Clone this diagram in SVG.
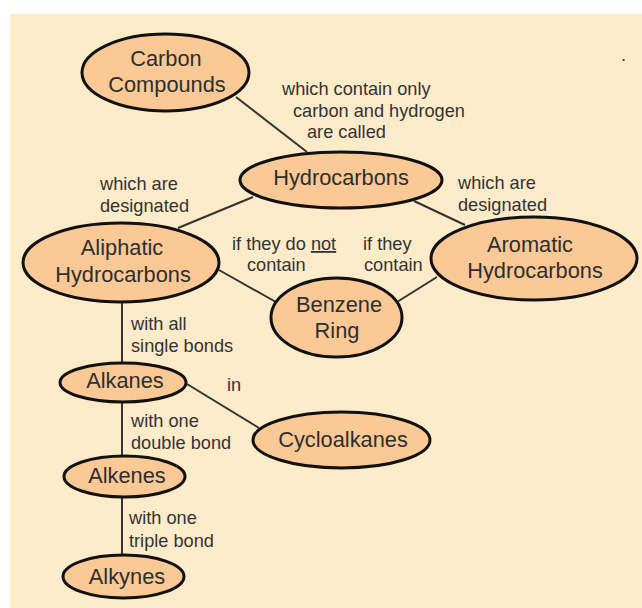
<svg xmlns="http://www.w3.org/2000/svg" width="642" height="608" viewBox="0 0 642 608">
  <style>
    .node ellipse { fill: #fbc996; stroke: #111; stroke-width: 3; }
    .node text { font-family: "Liberation Sans", Arial, sans-serif; font-size: 21.8px; fill: #2e2e2e; text-anchor: middle; }
    .conn line { stroke: #333; stroke-width: 2; }
    .lbl { font-family: "Liberation Sans", Arial, sans-serif; font-size: 18.2px; fill: #333; }
  </style>
  <rect x="0" y="0" width="642" height="608" fill="#ffffff"/>
  <rect x="10" y="14" width="632" height="594" fill="#feebca"/>
  <text x="621" y="61" class="lbl" font-size="16">.</text>

  <g id="connectors" class="conn">
    <line x1="236" y1="97" x2="307" y2="152"/>
    <line x1="253" y1="197" x2="178" y2="228"/>
    <line x1="414" y1="201" x2="465" y2="225"/>
    <line x1="219" y1="270" x2="276" y2="302"/>
    <line x1="397" y1="302" x2="437" y2="277"/>
    <line x1="122" y1="302" x2="122" y2="363"/>
    <line x1="187" y1="384" x2="259" y2="428"/>
    <line x1="122" y1="402" x2="122" y2="456"/>
    <line x1="122" y1="497" x2="122" y2="555"/>
  </g>

  <g id="labels">
    <text class="lbl" x="282" y="95">which contain only</text>
    <text class="lbl" x="293" y="117">carbon and hydrogen</text>
    <text class="lbl" x="307" y="138">are called</text>
    <text class="lbl" x="100" y="190">which are</text>
    <text class="lbl" x="100" y="212">designated</text>
    <text class="lbl" x="458" y="189">which are</text>
    <text class="lbl" x="458" y="211">designated</text>
    <text class="lbl" x="232" y="250">if they do <tspan text-decoration="underline">not</tspan></text>
    <text class="lbl" x="247" y="271">contain</text>
    <text class="lbl" x="363" y="250">if they</text>
    <text class="lbl" x="364" y="271">contain</text>
    <text class="lbl" x="131" y="330">with all</text>
    <text class="lbl" x="131" y="352">single bonds</text>
    <text class="lbl" x="227" y="391">in</text>
    <text class="lbl" x="131" y="427">with one</text>
    <text class="lbl" x="131" y="449">double bond</text>
    <text class="lbl" x="129" y="524">with one</text>
    <text class="lbl" x="129" y="547">triple bond</text>
  </g>

  <g id="carbon-compounds" class="node">
    <ellipse cx="165.5" cy="72.5" rx="83.5" ry="38.5"/>
    <text x="166" y="66">Carbon</text>
    <text x="167" y="92">Compounds</text>
  </g>
  <g id="hydrocarbons" class="node">
    <ellipse cx="341" cy="180" rx="101" ry="28"/>
    <text x="341" y="185">Hydrocarbons</text>
  </g>
  <g id="aliphatic" class="node">
    <ellipse cx="121" cy="262.5" rx="98" ry="39.5"/>
    <text x="122" y="255">Aliphatic</text>
    <text x="123" y="282">Hydrocarbons</text>
  </g>
  <g id="aromatic" class="node">
    <ellipse cx="534" cy="258.5" rx="103" ry="41.5"/>
    <text x="530" y="252">Aromatic</text>
    <text x="535" y="278">Hydrocarbons</text>
  </g>
  <g id="benzene-ring" class="node">
    <ellipse cx="336.5" cy="317.5" rx="65.5" ry="39.5"/>
    <text x="339" y="312">Benzene</text>
    <text x="337" y="338">Ring</text>
  </g>
  <g id="alkanes" class="node">
    <ellipse cx="123" cy="382.5" rx="63" ry="19.5"/>
    <text x="125" y="388">Alkanes</text>
  </g>
  <g id="cycloalkanes" class="node">
    <ellipse cx="341.5" cy="440" rx="88.5" ry="28"/>
    <text x="343" y="447">Cycloalkanes</text>
  </g>
  <g id="alkenes" class="node">
    <ellipse cx="124.5" cy="476.5" rx="60.5" ry="20.5"/>
    <text x="127" y="483">Alkenes</text>
  </g>
  <g id="alkynes" class="node">
    <ellipse cx="123.5" cy="576.5" rx="60.5" ry="21.5"/>
    <text x="127" y="584">Alkynes</text>
  </g>
</svg>
